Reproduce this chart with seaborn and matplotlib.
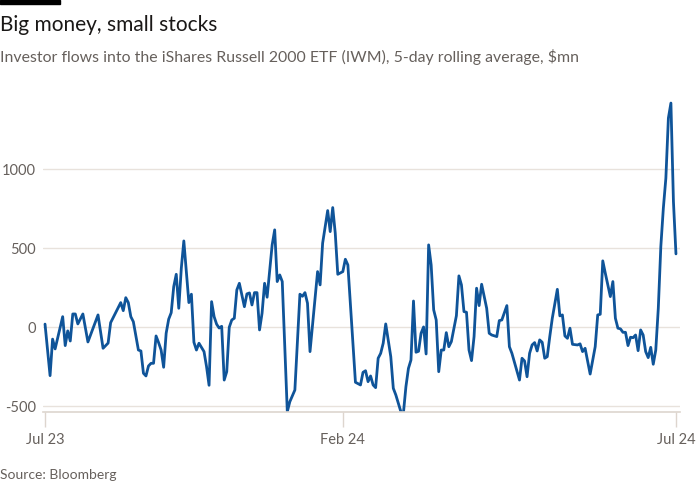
"""
Big money, small stocks
IWM investor flows, 5-day rolling average ($mn)
"""

import matplotlib
matplotlib.use('Agg')
import matplotlib.pyplot as plt
import seaborn as sns
import pandas as pd

# ----------------------------
# DATA
# ----------------------------
# trading-session index from the first day shown (Jul 23) to the last (Jul 24)
day = [
    0, 2, 3, 4, 7, 8, 9, 10, 11, 12, 13, 15, 17, 21, 23, 25, 26, 30, 31, 32,
    33, 34, 35, 37, 38, 39, 40, 41, 42, 43, 44, 45, 46, 47, 48, 49, 50, 51, 52, 53,
    54, 55, 56, 57, 58, 59, 60, 61, 63, 64, 65, 66, 67, 68, 69, 70, 71, 72, 73, 74,
    75, 76, 77, 79, 80, 81, 82, 83, 84, 85, 86, 87, 88, 90, 91, 92, 93, 94, 96, 97,
    99, 101, 102, 103, 104, 105, 108, 109, 110, 112, 113, 114, 115, 116, 118, 119, 120, 123, 125, 126,
    127, 128, 129, 130, 131, 132, 133, 134, 135, 137, 138, 139, 141, 142, 143, 144, 145, 146, 147, 148,
    149, 150, 151, 152, 153, 154, 155, 156, 157, 158, 159, 160, 161, 163, 164, 165, 166, 167, 168, 169,
    170, 171, 172, 173, 175, 176, 177, 179, 180, 181, 183, 184, 185, 188, 189, 190, 191, 192, 193, 194,
    195, 196, 197, 198, 199, 200, 201, 203, 204, 205, 206, 207, 208, 209, 211, 212, 213, 214, 216, 218,
    219, 220, 221, 222, 224, 225, 226, 227, 228, 229, 230, 231, 232, 233, 234, 235, 236, 237, 238, 239,
    240, 241, 242, 243, 244, 245, 246, 247, 248, 249, 250,
]
flow = [
    20, -306, -75, -137, 67, -116, -23, -87, 84, 84, 21, 84, -93, 78, -133, -100, 29, 156, 105, 187,
    156, 67, 35, -144, -150, -291, -308, -245, -228, -228, -55, -97, -144, -253, -38, 51, 92, 257, 335, 120,
    373, 546, 352, 156, 209, -95, -144, -101, -154, -249, -367, 162, 67, 19, -5, 6, -334, -281, 0, 46,
    57, 236, 278, 130, 211, 217, 141, 219, 219, -17, 89, 278, 190, 521, 616, 289, 331, 289, -534, -471,
    -397, 209, 196, 219, 152, -154, 352, 268, 532, 738, 605, 757, 595, 335, 352, 430, 394, -348, -365, -285,
    -275, -344, -308, -365, -382, -196, -165, -101, 21, -186, -386, -428, -534, -544, -376, -260, -207, 166, -158, -152,
    -38, 2, -169, 521, 394, 110, 46, -281, -144, -144, -34, -123, -91, 73, 325, 268, 99, 95, -144, -211,
    -59, 247, 137, 272, 120, -38, -49, -59, 42, 46, 137, -123, -165, -334, -196, -213, -313, -165, -112, -97,
    -150, -80, -95, -196, -186, -59, 57, 240, 72, 78, -55, -70, -6, -108, -112, -105, -154, -133, -296, -123,
    78, 82, 420, 342, 194, 289, 57, -6, -10, -32, -32, -116, -63, -66, -49, -148, -17, -49, -154, -192,
    -127, -234, -144, 120, 510, 753, 943, 1323, 1418, 795, 464,
]

tick_days = [0, 118, 250]
tick_labels = ['Jul 23', 'Feb 24', 'Jul 24']
y_ticks = [-500, 0, 500, 1000]

title = 'Big money, small stocks'
subtitle = 'Investor flows into the iShares Russell 2000 ETF (IWM), 5-day rolling average, $mn'
source = 'Source: Bloomberg'

# ----------------------------
# STYLE
# ----------------------------
LINE = '#0f5499'
GRID = '#e8e2dc'
SPINE = '#ddd5ce'
GREY = '#66605c'

sns.set_theme(style='white')
plt.rcParams['font.family'] = ['Lato', 'DejaVu Sans']


def main():
    df = pd.DataFrame({'day': day, 'flow': flow})

    fig = plt.figure(figsize=(7, 5), dpi=100, facecolor='white')
    ax = fig.add_axes([43 / 700, 1 - 412 / 500, 637 / 700, 314 / 500])

    sns.lineplot(data=df, x='day', y='flow', ax=ax, color=LINE, linewidth=2.0)

    ax.set_xlim(-0.8, 251.6)
    ax.set_ylim(-536, 1450)

    ax.set_yticks(y_ticks)
    ax.set_yticklabels([str(v) for v in y_ticks], color=GREY, fontsize=10.5)
    ax.set_xticks(tick_days)
    ax.set_xticklabels(tick_labels, color=GREY, fontsize=10.5)

    ax.grid(axis='y', color=GRID, linewidth=1)
    ax.set_axisbelow(True)
    for side in ['top', 'right', 'left']:
        ax.spines[side].set_visible(False)
    ax.spines['bottom'].set_color(SPINE)
    ax.spines['bottom'].set_linewidth(1.2)

    ax.tick_params(axis='y', length=0, pad=5)
    ax.tick_params(axis='x', length=11, width=1, color=SPINE, pad=4, direction='out')
    ax.tick_params(axis='x', bottom=True)
    ax.set_xlabel('')
    ax.set_ylabel('')

    # black bar above the title
    fig.patches.append(plt.Rectangle((0, 1 - 4 / 500), 60 / 700, 4 / 500,
                                     transform=fig.transFigure, color='black'))
    fig.text(0, 1 - 31 / 500, title, fontsize=15, color='#1a1817', va='baseline')
    fig.text(0, 1 - 62 / 500, subtitle, fontsize=11.4, color=GREY, va='baseline')
    fig.text(0, 1 - 479 / 500, source, fontsize=10, color=GREY, va='baseline')

    fig.savefig('out.png', dpi=100, facecolor='white')
    plt.close(fig)


if __name__ == '__main__':
    main()
